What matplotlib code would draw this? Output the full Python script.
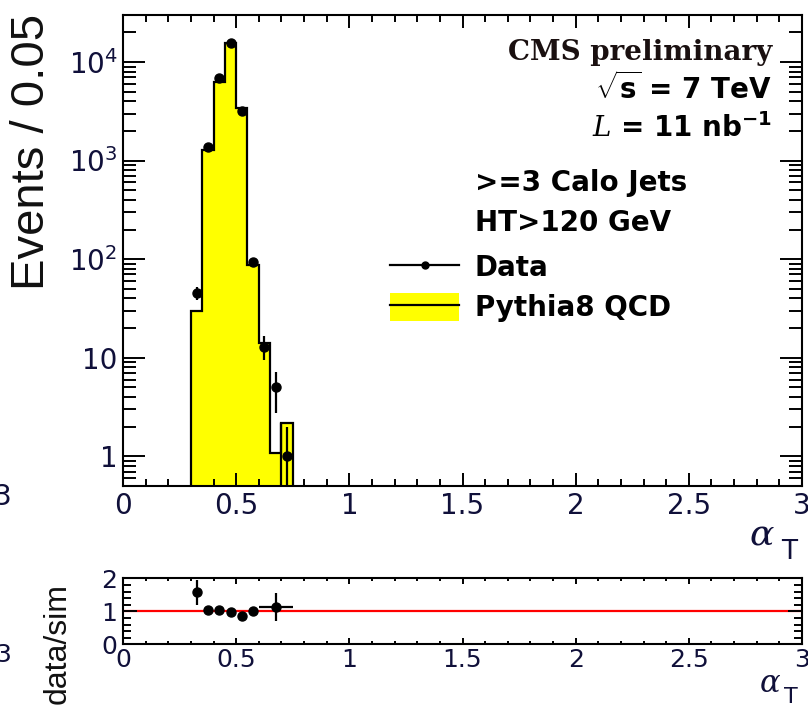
import numpy as np
import matplotlib
matplotlib.use("Agg")
import matplotlib.pyplot as plt
from matplotlib.ticker import MultipleLocator, FixedLocator, FixedFormatter, LogLocator, NullFormatter
from matplotlib.patches import Patch
from matplotlib.lines import Line2D

plt.rcParams['mathtext.fontset'] = 'custom'
plt.rcParams['mathtext.rm'] = 'DejaVu Sans'
plt.rcParams['mathtext.bf'] = 'DejaVu Sans:bold'
plt.rcParams['mathtext.it'] = 'DejaVu Serif:italic'
plt.rcParams['mathtext.sf'] = 'DejaVu Sans'

# ---------------- data ----------------
bin_edges = [0.30, 0.35, 0.40, 0.45, 0.50, 0.55, 0.60, 0.65, 0.70, 0.75]
mc_qcd = [30, 1280, 6300, 15500, 3390, 88, 14, 1.07, 2.16]
data_x = [0.325, 0.375, 0.425, 0.475, 0.525, 0.575, 0.625, 0.675, 0.725]
data_counts = [45, 1380, 6840, 15700, 3200, 94, 13, 5, 1]

ratio_x = [0.325, 0.375, 0.425, 0.475, 0.525, 0.575, 0.675]
ratio_y = [1.58, 1.04, 1.05, 0.97, 0.87, 1.01, 1.12]
ratio_yerr = [0.38, 0.03, 0.02, 0.01, 0.02, 0.11, 0.42]
ratio_xerr = [0.0, 0.0, 0.0, 0.0, 0.0, 0.0, 0.075]

x_ticks = [0, 0.5, 1, 1.5, 2, 2.5, 3]
x_ticklabels = ['0', '0.5', '1', '1.5', '2', '2.5', '3']
y_ticks = [1, 10, 100, 1000, 10000]
y_ticklabels = ['1', '10', r'$10^{2}$', r'$10^{3}$', r'$10^{4}$']
r_ticks = [0, 1, 2]
r_ticklabels = ['0', '1', '2']

W, H = 808, 708
def px(x):
    return x / W
def py(y):
    return 1 - y / H

fig = plt.figure(figsize=(W / 100, H / 100), dpi=100)
fig.patch.set_facecolor('white')

ax = fig.add_axes([px(123), py(486), (802 - 123) / W, (486 - 15) / H])
rax = fig.add_axes([px(123), py(644.3), (802 - 123) / W, (644.3 - 578.3) / H])

ymin, ymax = 0.5, 3.0e4
ax.set_yscale('log')
ax.set_xlim(0, 3)
ax.set_ylim(ymin, ymax)

# MC histogram
ax.stairs(mc_qcd, bin_edges, baseline=ymin, fill=True, color='#ffff00', zorder=1)
ax.stairs(mc_qcd, bin_edges, baseline=ymin, fill=False, color='black', lw=1.6, zorder=2)
ax.vlines(bin_edges[-2], ymin, mc_qcd[-1], color='black', lw=1.6, zorder=2)

# data
ax.errorbar(data_x, data_counts, yerr=np.sqrt(data_counts), fmt='o', color='black',
            ms=6.5, elinewidth=1.6, capsize=0, zorder=3)

# axes styling
for a in (ax, rax):
    for s in a.spines.values():
        s.set_linewidth(1.5)
    a.tick_params(which='both', direction='in', top=True, right=True, width=1.4,
                  labelcolor='#10103a')

ax.xaxis.set_major_locator(FixedLocator(x_ticks))
ax.xaxis.set_major_formatter(FixedFormatter(x_ticklabels))
ax.xaxis.set_minor_locator(MultipleLocator(0.1))
ax.yaxis.set_major_locator(FixedLocator(y_ticks))
ax.yaxis.set_major_formatter(FixedFormatter(y_ticklabels))
ax.yaxis.set_minor_locator(LogLocator(base=10, subs=np.arange(2, 10) * 1.0, numticks=20))
ax.yaxis.set_minor_formatter(NullFormatter())
ax.tick_params(axis='x', which='major', length=9.5, pad=4, labelsize=20)
ax.tick_params(axis='x', which='minor', length=5)
ax.tick_params(axis='y', which='major', length=16, pad=4, labelsize=20)
ax.tick_params(axis='y', which='minor', length=9.5)
for lab in ax.get_xticklabels() + ax.get_yticklabels():
    lab.set_family('DejaVu Sans')

# ratio panel
rax.set_xlim(0, 3)
rax.set_ylim(0, 2)
rax.axhline(1, color='red', lw=1.6, zorder=1)
rax.errorbar(ratio_x, ratio_y, yerr=ratio_yerr, xerr=ratio_xerr, fmt='o', color='black',
             ms=6.5, elinewidth=1.6, capsize=0, zorder=3)
rax.xaxis.set_major_locator(FixedLocator(x_ticks))
rax.xaxis.set_major_formatter(FixedFormatter(x_ticklabels))
rax.xaxis.set_minor_locator(MultipleLocator(0.1))
rax.yaxis.set_major_locator(FixedLocator(r_ticks))
rax.yaxis.set_major_formatter(FixedFormatter(r_ticklabels))
rax.yaxis.set_minor_locator(MultipleLocator(0.2))
rax.tick_params(axis='x', which='major', length=4, pad=3, labelsize=18)
rax.tick_params(axis='x', which='minor', length=2.5)
rax.tick_params(axis='y', which='major', length=10, pad=4, labelsize=18)
rax.tick_params(axis='y', which='minor', length=6)

# axis titles
fig.text(px(32), py(152), 'Events / 0.05', rotation=90, ha='center', va='center',
         family='Liberation Sans', fontsize=34, color='#111111')
fig.text(px(58), py(644), 'data/sim', rotation=90, ha='center', va='center',
         family='Liberation Sans', fontsize=23, color='#111111')
fig.text(px(762), py(536), 'α', family='DejaVu Serif', style='italic', fontsize=26,
         ha='center', va='center', color='#10103a')
fig.text(px(789), py(552), 'T', family='DejaVu Sans', fontsize=19,
         ha='center', va='center', color='#10103a')
fig.text(px(770), py(684), 'α', family='DejaVu Serif', style='italic', fontsize=22,
         ha='center', va='center', color='#10103a')
fig.text(px(791), py(697), 'T', family='DejaVu Sans', fontsize=16,
         ha='center', va='center', color='#10103a')

# cropped fragments at left edge
fig.text(px(3), py(497), '3', family='DejaVu Sans', fontsize=20, ha='center', va='center', color='#10103a')
fig.text(px(3), py(655), '3', family='DejaVu Sans', fontsize=18, ha='center', va='center', color='#10103a')

# annotations
fig.text(px(772), py(53), 'CMS preliminary', family='DejaVu Serif', fontweight='bold',
         fontsize=20, ha='right', va='center', color='#1a1010')
fig.text(px(772), py(89), r'$\sqrt{\mathbf{s}}$ = 7 TeV', family='DejaVu Sans', fontweight='bold',
         fontsize=20, ha='right', va='center')
fig.text(px(772), py(128), r'$L$ = 11 nb$^{\mathbf{-1}}$', family='DejaVu Sans', fontweight='bold',
         fontsize=20, ha='right', va='center')
fig.text(px(475), py(183), '>=3 Calo Jets', family='DejaVu Sans', fontweight='bold',
         fontsize=20, ha='left', va='center')
fig.text(px(475), py(223), 'HT>120 GeV', family='DejaVu Sans', fontweight='bold',
         fontsize=20, ha='left', va='center')

h_data = Line2D([], [], color='black', marker='o', ms=5, lw=1.6)
h_mc = (Patch(facecolor='#ffff00', edgecolor='none'), Line2D([], [], color='black', lw=1.6))
leg = fig.legend([h_data, h_mc], ['Data', 'Pythia8 QCD'], loc='upper left',
                 bbox_to_anchor=(px(390), py(253)), bbox_transform=fig.transFigure,
                 frameon=False, borderpad=0, borderaxespad=0,
                 handlelength=2.5, handleheight=1.15, handletextpad=0.55, labelspacing=0.4,
                 prop={'family': 'DejaVu Sans', 'weight': 'bold', 'size': 20})

fig.savefig('out.png', dpi=100, facecolor='white')
